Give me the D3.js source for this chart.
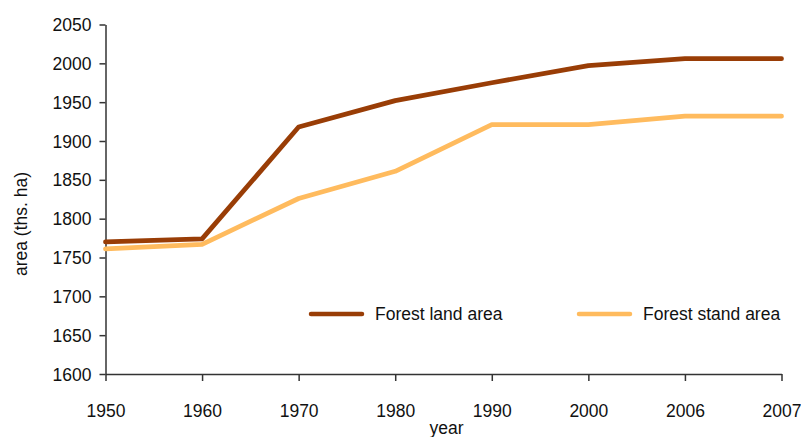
<!DOCTYPE html>
<html>
<head>
<meta charset="utf-8">
<script src="https://cdn.jsdelivr.net/npm/d3@7"></script>
<style>
  body { margin: 0; background: #fff; }
  svg { display: block; font-family: "Liberation Sans", Arial, sans-serif; }
  .axis path, .axis line { stroke: #333; stroke-width: 1.5; }
  .axis text { font-size: 17.5px; fill: #111; }
</style>
</head>
<body>
<div id="chart"></div>
<script>
// data
const years = ["1950", "1960", "1970", "1980", "1990", "2000", "2006", "2007"];
const forestLand = [1770, 1774, 1918, 1952, 1975, 1997, 2006, 2006];
const forestStand = [1761, 1767, 1826, 1861, 1921, 1921, 1932, 1932];
const yTicks = [1600, 1650, 1700, 1750, 1800, 1850, 1900, 1950, 2000, 2050];
const seriesNames = ["Forest land area", "Forest stand area"];
const seriesColors = ["#993d06", "#ffbb5e"];

const W = 801, H = 437;
const mg = { t: 24.5, r: 19.5, b: 63, l: 105.5 };

const svg = d3.select("#chart").append("svg")
  .attr("width", W).attr("height", H);

const x = d3.scalePoint().domain(years).range([mg.l, W - mg.r]);
const y = d3.scaleLinear().domain([1600, 2050]).range([H - mg.b, mg.t]);

// axes
svg.append("g")
  .attr("class", "axis")
  .attr("transform", `translate(${mg.l},0)`)
  .call(d3.axisLeft(y).tickValues(yTicks).tickFormat(d3.format("d"))
    .tickSize(6).tickSizeOuter(0).tickPadding(8))
  .call(g => g.selectAll("text").attr("dy", "0.35em"));

svg.append("g")
  .attr("class", "axis")
  .attr("transform", `translate(0,${H - mg.b})`)
  .call(d3.axisBottom(x).tickSize(7).tickSizeOuter(0).tickPadding(24));

// axis titles
svg.append("text")
  .attr("x", (mg.l + W - mg.r) / 2 + 3)
  .attr("y", 434)
  .attr("text-anchor", "middle")
  .style("font-size", "17.5px").style("fill", "#111")
  .text("year");

svg.append("text")
  .attr("transform", "translate(27,224) rotate(-90)")
  .attr("text-anchor", "middle")
  .style("font-size", "17.5px").style("fill", "#111")
  .text("area (ths. ha)");

// lines
const line = d3.line()
  .x((d, i) => x(years[i]))
  .y(d => y(d));

[forestStand, forestLand].forEach((s, k) => {
  const idx = k === 0 ? 1 : 0;
  svg.append("path")
    .datum(s)
    .attr("d", line)
    .attr("fill", "none")
    .attr("stroke", seriesColors[idx])
    .attr("stroke-width", 4.8)
    .attr("stroke-linejoin", "round")
    .attr("stroke-linecap", "round");
});

// legend
const lgX = [311, 579];
const legend = svg.append("g").attr("id", "legend");
seriesNames.forEach((n, i) => {
  legend.append("line")
    .attr("x1", lgX[i]).attr("x2", lgX[i] + 51)
    .attr("y1", 314).attr("y2", 314)
    .attr("stroke", seriesColors[i])
    .attr("stroke-width", 4.5)
    .attr("stroke-linecap", "round");
  legend.append("text")
    .attr("x", lgX[i] + 64).attr("y", 314)
    .attr("dy", "0.35em")
    .style("font-size", "17.5px").style("fill", "#111")
    .text(n);
});
</script>
</body>
</html>
